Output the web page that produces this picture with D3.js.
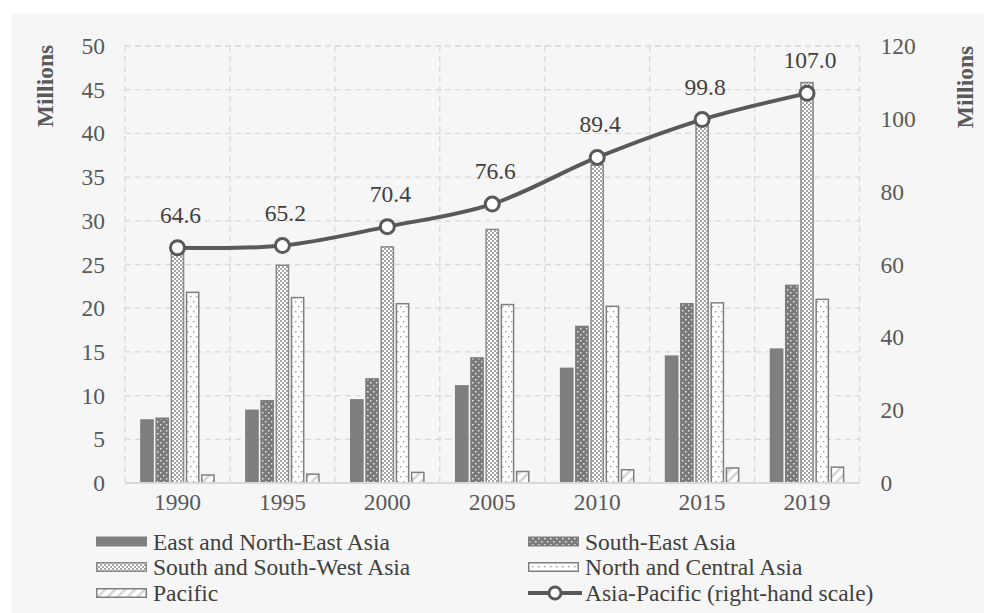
<!DOCTYPE html>
<html><head><meta charset="utf-8">
<script src="https://cdn.jsdelivr.net/npm/d3@7"></script>
<style>body{margin:0;background:#fff;}svg{display:block;}</style>
</head><body>
<script>
const years = ["1990","1995","2000","2005","2010","2015","2019"];
const seriesNames = ["East and North-East Asia","South-East Asia","South and South-West Asia","North and Central Asia","Pacific"];
const eastNE   = [7.3, 8.4, 9.6, 11.2, 13.2, 14.6, 15.4];
const southE   = [7.5, 9.5, 12.0, 14.4, 18.0, 20.6, 22.7];
const southSW  = [26.9, 25.0, 27.1, 29.1, 36.5, 42.1, 45.9];
const northC   = [21.9, 21.3, 20.6, 20.5, 20.3, 20.7, 21.1];
const pacific  = [1.0, 1.1, 1.3, 1.4, 1.6, 1.8, 1.9];
const asiaPac  = [64.6, 65.2, 70.4, 76.6, 89.4, 99.8, 107.0];
const lineName = "Asia-Pacific (right-hand scale)";
const leftTicks = [0,5,10,15,20,25,30,35,40,45,50];
const rightTicks = [0,20,40,60,80,100,120];
const seriesVals = [eastNE, southE, southSW, northC, pacific];

const W=984,H=613;
const svg=d3.select("body").append("svg").attr("width",W).attr("height",H);
const font="'Liberation Serif','Times New Roman',serif";
svg.append("rect").attr("x",11).attr("y",14).attr("width",W-11).attr("height",H-14).attr("fill","#f6f6f6");

const defs=svg.append("defs");
let p=defs.append("pattern").attr("id","pSE").attr("width",6).attr("height",6).attr("patternUnits","userSpaceOnUse");
p.append("rect").attr("width",6).attr("height",6).attr("fill","#7a7a7a");
p.append("rect").attr("x",1).attr("y",1).attr("width",1.5).attr("height",1.5).attr("fill","#e6e6e6");
p.append("rect").attr("x",4).attr("y",4).attr("width",1.5).attr("height",1.5).attr("fill","#e6e6e6");
p=defs.append("pattern").attr("id","pS").attr("width",4).attr("height",4).attr("patternUnits","userSpaceOnUse");
p.append("rect").attr("width",4).attr("height",4).attr("fill","#ffffff");
p.append("rect").attr("x",0).attr("y",0).attr("width",2).attr("height",2).attr("fill","#a6a6a6");
p.append("rect").attr("x",2).attr("y",2).attr("width",2).attr("height",2).attr("fill","#a6a6a6");
p=defs.append("pattern").attr("id","pN").attr("width",6).attr("height",10).attr("patternUnits","userSpaceOnUse");
p.append("rect").attr("width",6).attr("height",10).attr("fill","#ffffff");
p.append("rect").attr("x",1).attr("y",1).attr("width",1.4).attr("height",1.4).attr("fill","#9a9a9a");
p.append("rect").attr("x",4).attr("y",6).attr("width",1.4).attr("height",1.4).attr("fill","#9a9a9a");
p=defs.append("pattern").attr("id","pP").attr("width",7).attr("height",7).attr("patternUnits","userSpaceOnUse").attr("patternTransform","rotate(45)");
p.append("rect").attr("width",7).attr("height",7).attr("fill","#ffffff");
p.append("rect").attr("x",0).attr("y",0).attr("width",2.5).attr("height",7).attr("fill","#d4d4d4");

const fills=["#7f7f7f","url(#pSE)","url(#pS)","url(#pN)","url(#pP)"];
const strokes=["none","#7f7f7f","#8a8a8a","#7f7f7f","#7f7f7f"];

const x0=125,x1=859.5,yb=483,yt=46;
const x=d3.scaleBand().domain(years).range([x0,x1]).paddingInner(0.26).paddingOuter(0.13);
const xs=d3.scaleBand().domain(d3.range(5)).range([0,x.bandwidth()]).padding(0.1);
const yL=d3.scaleLinear().domain([0,50]).range([yb,yt]);
const yR=d3.scaleLinear().domain([0,120]).range([yb,yt]);
const step=x.step();

const g=svg.append("g");
g.selectAll(".hg").data(leftTicks.filter(d=>d>0)).join("line")
 .attr("x1",x0).attr("x2",x1).attr("y1",d=>yL(d)).attr("y2",d=>yL(d))
 .attr("stroke","#d9d9d9").attr("stroke-width",1.3).attr("stroke-dasharray","6,4");
g.selectAll(".vg").data(d3.range(years.length+1)).join("line")
 .attr("x1",i=>x0+i*step).attr("x2",i=>x0+i*step).attr("y1",yt).attr("y2",yb)
 .attr("stroke","#d9d9d9").attr("stroke-width",1.3).attr("stroke-dasharray","6,4");

seriesVals.forEach((vals,si)=>{
  svg.append("g").selectAll("rect").data(vals).join("rect")
   .attr("x",(d,i)=>x(years[i])+xs(si)+(si?0.75:0))
   .attr("y",d=>yL(d)+(si?0.75:0))
   .attr("width",xs.bandwidth()-(si?1.5:0))
   .attr("height",d=>yb-yL(d)-(si?0.75:0))
   .attr("fill",fills[si]).attr("stroke",strokes[si]).attr("stroke-width",si?1.5:0);
});

svg.append("line").attr("x1",x0).attr("x2",x1).attr("y1",yb).attr("y2",yb).attr("stroke","#d9d9d9").attr("stroke-width",2);

const axL=d3.axisLeft(yL).tickValues(leftTicks).tickSize(0).tickPadding(20);
const gL=svg.append("g").attr("transform",`translate(${x0},0)`).call(axL);
const axR=d3.axisRight(yR).tickValues(rightTicks).tickSize(0).tickPadding(21);
const gR=svg.append("g").attr("transform",`translate(${x1},0)`).call(axR);
const axB=d3.axisBottom(x).tickSize(0).tickPadding(5);
const gB=svg.append("g").attr("transform",`translate(0,${yb})`).call(axB);
[gL,gR,gB].forEach(a=>{a.select(".domain").remove();a.selectAll("text").attr("font-family",font).attr("font-size",23.5).attr("fill","#595959");});
gB.selectAll("text").attr("dy","0.95em");

svg.append("text").attr("transform","translate(53,86) rotate(-90)").attr("text-anchor","middle")
 .attr("font-family",font).attr("font-weight","bold").attr("font-size",23.5).attr("fill","#595959").text("Millions");
svg.append("text").attr("transform","translate(973,87) rotate(-90)").attr("text-anchor","middle")
 .attr("font-family",font).attr("font-weight","bold").attr("font-size",23.5).attr("fill","#595959").text("Millions");

const cx=i=>x(years[i])+x.bandwidth()/2;
const line=d3.line().x((d,i)=>cx(i)).y(d=>yR(d)).curve(d3.curveCatmullRom.alpha(0.5));
svg.append("path").datum(asiaPac).attr("d",line).attr("fill","none").attr("stroke","#595959").attr("stroke-width",4);
svg.append("g").selectAll("circle").data(asiaPac).join("circle")
 .attr("cx",(d,i)=>cx(i)).attr("cy",d=>yR(d)).attr("r",7).attr("fill","#fff").attr("stroke","#595959").attr("stroke-width",3);
svg.append("g").selectAll("text").data(asiaPac).join("text")
 .attr("x",(d,i)=>cx(i)+3).attr("y",d=>yR(d)-25).attr("text-anchor","middle")
 .attr("font-family",font).attr("font-size",23.5).attr("fill","#404040").text(d=>d.toFixed(1));

const leg=svg.append("g");
const legPos=[[96,541.5],[528,541.5],[96,567],[528,567],[96,593]];
seriesNames.forEach((n,i)=>{
  const [lx,ly]=legPos[i];
  leg.append("rect").attr("x",lx+(i?0.75:0)).attr("y",ly-5+(i?0.75:0)).attr("width",51-(i?1.5:0)).attr("height",10-(i?1.5:0))
   .attr("fill",fills[i]).attr("stroke",strokes[i]).attr("stroke-width",i?1.5:0);
  leg.append("text").attr("x",lx+57).attr("y",ly).attr("dy","0.35em").attr("font-family",font).attr("font-size",23.5).attr("fill","#404040").text(n);
});
leg.append("line").attr("x1",528).attr("x2",582).attr("y1",593).attr("y2",593).attr("stroke","#595959").attr("stroke-width",4);
leg.append("circle").attr("cx",555).attr("cy",593).attr("r",6).attr("fill","#fff").attr("stroke","#595959").attr("stroke-width",3);
leg.append("text").attr("x",585).attr("y",593).attr("dy","0.35em").attr("font-family",font).attr("font-size",23.5).attr("fill","#404040").text(lineName);
</script>
</body></html>
